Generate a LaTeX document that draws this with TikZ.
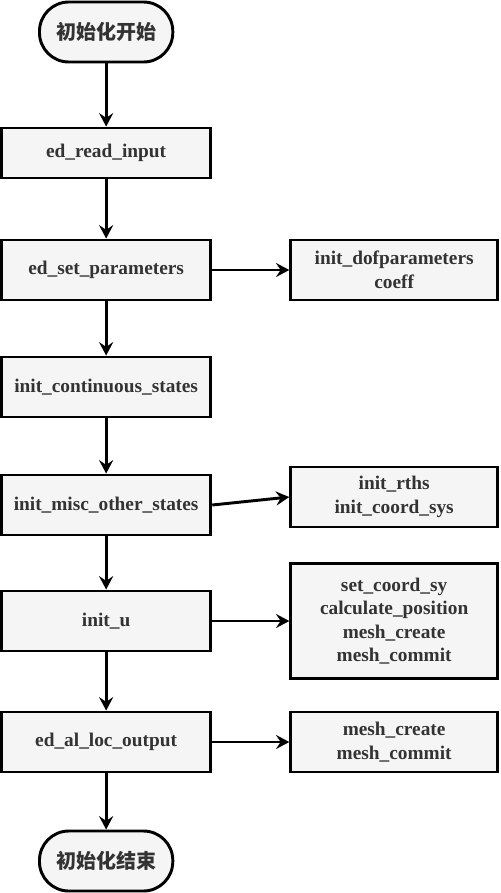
\documentclass[tikz,border=0pt]{standalone}
\usepackage{fontspec}
\setmainfont{Liberation Serif}
\newfontfamily\cjkfont{Noto Sans CJK SC}
\usetikzlibrary{arrows.meta,positioning}
\definecolor{ink}{HTML}{333333}
\definecolor{boxfill}{HTML}{F5F5F5}
\tikzset{
  flow/.style={-{Stealth[length=10pt,width=10.5pt,inset=3.5pt]},draw=black,line width=2.2pt},
  stepbox/.style={draw=black,fill=boxfill,line width=2.2pt,minimum width=157pt,minimum height=45pt,align=center,inner sep=2pt,font=\bfseries\fontsize{14.5pt}{17.6pt}\selectfont,text=ink},
  callbox/.style={draw=black,fill=boxfill,line width=2.2pt,minimum width=155pt,minimum height=45pt,align=center,inner sep=2pt,font=\bfseries\fontsize{14.5pt}{17.6pt}\selectfont,text=ink},
  terminal/.style={draw=black,fill=boxfill,line width=2.2pt,rounded corners=22pt,minimum width=100pt,minimum height=45pt,align=center,font=\cjkfont\bfseries\fontsize{15pt}{17pt}\selectfont,text=ink}
}

\begin{document}
\begin{tikzpicture}[x=0.75pt,y=-0.75pt]
  \fill[white] (0,0) rectangle (500,893);

  \node[terminal] (start) at (106,32) {初始化开始};
  \node[stepbox,minimum height=37.5pt] (readinput) at (106,153) {ed\_read\_input};
  \node[stepbox] (setparams) at (106,270) {ed\_set\_parameters};
  \node[stepbox] (contstates) at (106,387) {init\_continuous\_states};
  \node[stepbox] (miscstates) at (106,505) {init\_misc\_other\_states};
  \node[stepbox] (initu) at (106,621) {init\_u};
  \node[stepbox] (locoutput) at (106,742) {ed\_al\_loc\_output};
  \node[terminal] (finish) at (106,861) {初始化结束};

  \node[callbox] (dofparams) at (394,270) {init\_dofparameters\\coeff};
  \node[callbox] (rths) at (394,497) {init\_rths\\init\_coord\_sys};
  \node[callbox,minimum height=86pt] (coordsy) at (394,621)
    {set\_coord\_sy\\calculate\_position\\mesh\_create\\mesh\_commit};
  \node[callbox] (meshcall) at (394,742) {mesh\_create\\mesh\_commit};

  \draw[flow] (start.south) -- (readinput.north);
  \draw[flow] (readinput.south) -- (setparams.north);
  \draw[flow] (setparams.south) -- (contstates.north);
  \draw[flow] (contstates.south) -- (miscstates.north);
  \draw[flow] (miscstates.south) -- (initu.north);
  \draw[flow] (initu.south) -- (locoutput.north);
  \draw[flow] (locoutput.south) -- (finish.north);

  \draw[flow] (setparams.east) -- (dofparams.west);
  \draw[flow] (miscstates.east) -- (rths.west);
  \draw[flow] (initu.east) -- (coordsy.west);
  \draw[flow] (locoutput.east) -- (meshcall.west);
\end{tikzpicture}
\end{document}
